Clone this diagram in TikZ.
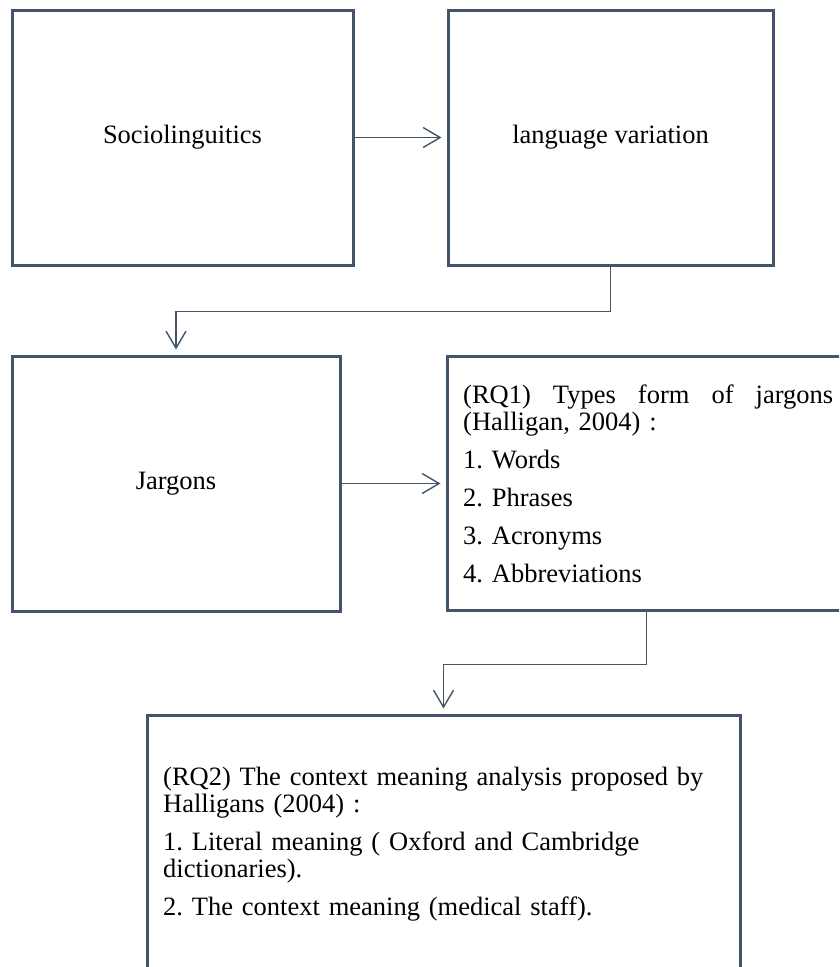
\documentclass[tikz,border=0pt]{standalone}
\usepackage{fontspec}
\setmainfont{Liberation Serif}
\usetikzlibrary{arrows.meta, calc}
\definecolor{slate}{HTML}{44546A}
\frenchspacing

\begin{document}
\begin{tikzpicture}[x=1pt,y=-1pt,line join=miter,
    box/.style={draw=slate,line width=3pt,inner sep=0pt,font=\fontsize{26.5}{27}\selectfont},
    conn/.style={draw=slate,line width=1.4pt,-{Straight Barb[length=17pt,width=20pt]},shorten >=5pt},
    list/.style={inner sep=0pt,anchor=base west,align=left,font=\fontsize{26.5}{27}\selectfont}]
    \useasboundingbox (0,0) rectangle (839,967);
    \clip (0,0) rectangle (839,967);

    % top row
    \node[box,minimum width=341pt,minimum height=255pt] (socio) at (182.5,137.5) {Sociolinguitics};
    \node[box,minimum width=325pt,minimum height=255pt] (langvar) at (610.5,137.5) {language variation};

    % middle row, rq1 runs off the right edge
    \node[box,minimum width=328pt,minimum height=255pt] (jargon) at (176,483.5) {Jargons};
    \node[box,minimum width=453pt,minimum height=254pt] (rq1) at (673.5,483) {};
    \node[list,text width=370pt] (rq1text) at (463,403) {\setlength{\parskip}{11pt}\leavevmode\hbox to 370pt{(RQ1)\hfill Types\hfill form\hfill of\hfill jargons}\newline (Halligan, 2004) :\par 1. Words\par 2. Phrases\par 3. Acronyms\par 4. Abbreviations};

    % bottom box, runs off the bottom edge
    \node[box,minimum width=593pt,minimum height=285pt] (rq2) at (443.5,857.5) {};
    \node[list,text width=560pt] (rq2text) at (163,785) {\setlength{\parskip}{11pt}(RQ2) The context meaning analysis proposed by\newline Halligans (2004) :\par 1. Literal meaning ( Oxford and Cambridge\newline dictionaries).\par 2. The context meaning (medical staff).};

    \coordinate (rq1foot) at ($(rq1.south west)+(201,0)$);

    \draw[conn] (socio.east) -- (langvar.west);
    \draw[conn] (langvar.south) -- ++(0,45) -| (jargon.north);
    \draw[conn] (jargon.east) -- (jargon.east -| rq1.west);
    \draw[conn] (rq1foot) -- ++(0,53) -| (rq2.north);

\end{tikzpicture}
\end{document}
